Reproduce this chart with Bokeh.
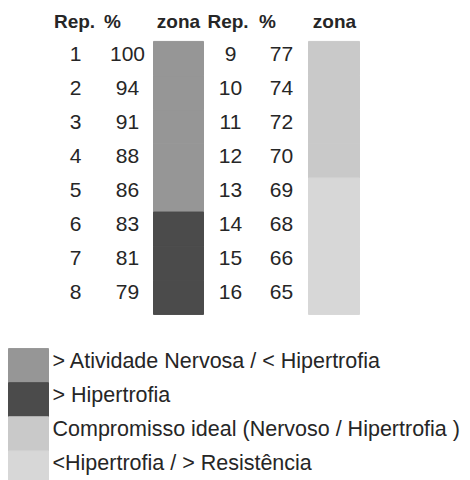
from bokeh.plotting import figure
from bokeh.models import Range1d, ColumnDataSource
from bokeh.core.properties import value
from bokeh.embed import file_html
from bokeh.resources import INLINE

# ---------------- data ----------------
reps = [1, 2, 3, 4, 5, 6, 7, 8, 9, 10, 11, 12, 13, 14, 15, 16]
pct = [100, 94, 91, 88, 86, 83, 81, 79, 77, 74, 72, 70, 69, 68, 66, 65]
zone_idx = [0, 0, 0, 0, 0, 1, 1, 1, 2, 2, 2, 2, 3, 3, 3, 3]
headers = ["Rep.", "%", "zona"]
zone_labels = [
    "> Atividade Nervosa / < Hipertrofia",
    "> Hipertrofia",
    "Compromisso ideal (Nervoso / Hipertrofia )",
    "<Hipertrofia / > Resistência",
]
zone_colors = ["#969696", "#4b4b4b", "#c9c9c9", "#d7d7d7"]

# ---------------- layout ----------------
ROWS_PER_COL = 8
REP_X = [75, 230]
PCT_X = [127, 281]
ZONE_X = [178, 333.5]
ZONE_W = [50, 51]
HEAD_X = [[74, 112, 178], [227.5, 267, 334]]
LEG_BOX_X, LEG_BOX_W, LEG_TEXT_X = 28, 40, 52
LEG_ROW0 = 10
FONT = value("Liberation Sans")
TXT = "#262626"

p = figure(width=470, height=480, output_backend="svg", toolbar_location=None,
           x_range=Range1d(0, 470), y_range=Range1d(13.366, -0.6996),
           x_axis_location=None, y_axis_location=None,
           min_border=0, min_border_left=0, min_border_right=0,
           min_border_top=0, min_border_bottom=0)
p.grid.visible = False
p.outline_line_color = None
p.background_fill_color = "white"
p.border_fill_color = "white"

grp = [i // ROWS_PER_COL for i in range(len(reps))]
row = [i % ROWS_PER_COL + 1 for i in range(len(reps))]

src = ColumnDataSource(dict(
    rep=[str(r) for r in reps],
    pct=[str(v) for v in pct],
    row=row,
    rx=[REP_X[g] for g in grp],
    px=[PCT_X[g] for g in grp],
    zx=[ZONE_X[g] for g in grp],
    zw=[ZONE_W[g] for g in grp],
    col=[zone_colors[z] for z in zone_idx],
))

p.rect(x="zx", y="row", width="zw", height=1, source=src,
       fill_color="col", line_color="col", line_width=1)

for field, xf in (("rep", "rx"), ("pct", "px")):
    p.text(x=xf, y="row", text=field, source=src, text_font=FONT,
           text_font_size="21px", text_align="center", text_baseline="middle",
           text_color=TXT, y_offset=-5)

# headers
hsrc = ColumnDataSource(dict(
    x=[x for g in HEAD_X for x in g],
    y=[0] * 6,
    t=headers * 2,
))
p.text(x="x", y="y", text="t", source=hsrc, text_font=FONT,
       text_font_size="19px", text_font_style="bold", text_align="center",
       text_baseline="middle", text_color=TXT, y_offset=-3)

# legend
lsrc = ColumnDataSource(dict(
    y=[LEG_ROW0 + k for k in range(len(zone_labels))],
    t=zone_labels,
    col=zone_colors,
))
p.rect(x=LEG_BOX_X, y="y", width=LEG_BOX_W, height=1, source=lsrc,
       fill_color="col", line_color="col", line_width=1)
p.text(x=LEG_TEXT_X, y="y", text="t", source=lsrc, text_font=FONT,
       text_font_size="21.5px", text_align="left", text_baseline="middle",
       text_color=TXT, y_offset=-5)

open("out.html", "w").write(file_html(p, INLINE))
